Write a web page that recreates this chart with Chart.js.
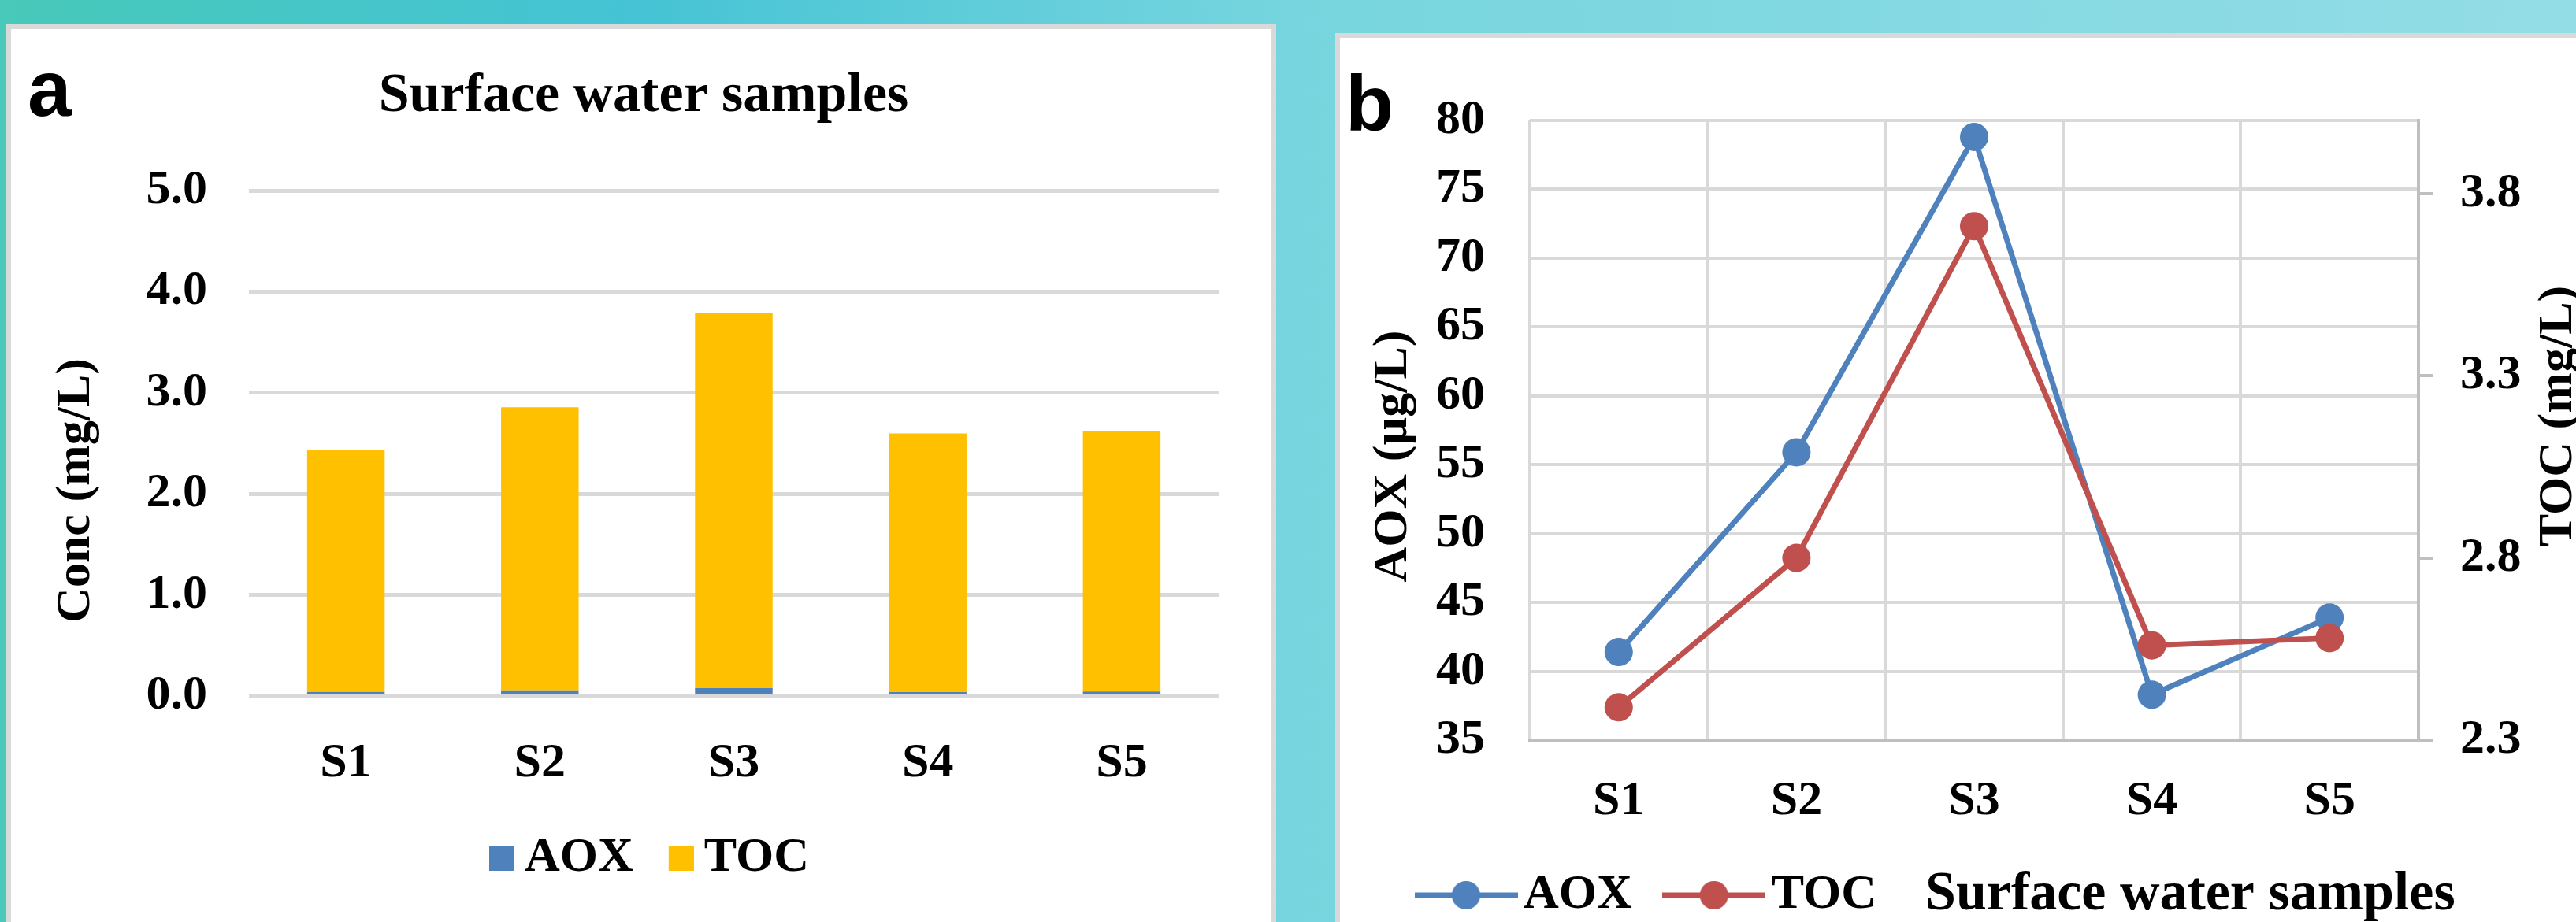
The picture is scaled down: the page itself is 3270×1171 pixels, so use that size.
<!DOCTYPE html>
<html>
<head>
<meta charset="utf-8">
<script src="https://cdn.jsdelivr.net/npm/chart.js@4.4.1/dist/chart.umd.min.js"></script>
<style>
  html, body { margin: 0; padding: 0; }
  body {
    width: 3270px; height: 1171px; overflow: hidden; position: relative;
    background: linear-gradient(to right, #48c9b9 0%, #44c3d4 24%, #76d5de 50%, #93dde6 100%);
  }
  .panel { position: absolute; background: #fff; border: 6px solid #d9d9d9; }
  #panelA { left: 8px; top: 31px; width: 1600px; height: 1200px; }
  #panelB { left: 1695px; top: 42px; width: 1700px; height: 1200px; }
  .tag { position: absolute; font: bold 100px "Liberation Sans", Arial, sans-serif; line-height: 100px; color: #000; }
  canvas { position: absolute; }
</style>
</head>
<body>
<div class="panel" id="panelA"></div>
<div class="panel" id="panelB"></div>
<canvas id="chartA" width="1600" height="1134" style="left:14px; top:37px;"></canvas>
<canvas id="chartB" width="1600" height="1140" style="left:1702px; top:48px;"></canvas>
<div class="tag" style="left:35px; top:62px;">a</div>
<div class="tag" style="left:1708px; top:81px;">b</div>

<script>
const samples = ['S1', 'S2', 'S3', 'S4', 'S5'];
const aoxUg = [41.4, 55.9, 78.8, 38.3, 43.9];   // AOX, µg/L
const tocMg = [2.39, 2.80, 3.71, 2.56, 2.58];   // TOC, mg/L
const aoxMg = aoxUg.map(v => v / 1000);         // AOX in mg/L for the stacked bars

const concMin = 0, concMax = 5, concStep = 1;
const aoxMin = 35, aoxMax = 80, aoxStep = 5;
const tocMin = 2.3, tocMax = 4.0;
const tocTicks = [2.3, 2.8, 3.3, 3.8];

const chartTitle = 'Surface water samples';
const concTitle = 'Conc (mg/L)';
const aoxTitle = 'AOX (µg/L)';
const tocTitle = 'TOC (mg/L)';

const blue = '#4f81bd';
const red = '#c0504d';
const gold = '#ffc000';

Chart.defaults.font.family = '"Liberation Serif", "Times New Roman", serif';
Chart.defaults.font.weight = 'bold';
Chart.defaults.color = '#000';

// legend swatch: square sits right of the box centre so text starts closer
function swatch(color) {
  const c = document.createElement('canvas');
  c.width = 64; c.height = 32;
  const g = c.getContext('2d');
  g.fillStyle = color;
  g.fillRect(32, 0, 32, 32);
  return c;
}

// legend marker: line with a dot
function lineMarker(color) {
  const c = document.createElement('canvas');
  c.width = 131; c.height = 40;
  const g = c.getContext('2d');
  g.strokeStyle = color;
  g.lineWidth = 7;
  g.beginPath(); g.moveTo(0, 20); g.lineTo(131, 20); g.stroke();
  g.fillStyle = color;
  g.beginPath(); g.arc(65.5, 20, 18, 0, Math.PI * 2); g.fill();
  return c;
}

// vertical axis titles, read bottom-up, placed beside the plot area
function axisTitles(items) {
  return {
    id: 'axisTitles',
    afterDraw(chart) {
      const ctx = chart.ctx;
      const area = chart.chartArea;
      const mid = (area.top + area.bottom) / 2;
      ctx.save();
      ctx.fillStyle = '#000';
      ctx.font = 'bold 62px "Liberation Serif"';
      ctx.textAlign = 'center';
      ctx.textBaseline = 'middle';
      items.forEach(t => {
        const x = t.side === 'left' ? area.left - t.gap : area.right + t.gap;
        ctx.save();
        ctx.translate(x, mid + t.shift);
        ctx.rotate(-Math.PI / 2);
        ctx.fillText(t.text, 0, 0);
        ctx.restore();
      });
      ctx.restore();
    }
  };
}

new Chart(document.getElementById('chartA'), {
  type: 'bar',
  data: {
    labels: samples,
    datasets: [
      { label: 'AOX', data: aoxMg, backgroundColor: blue },
      { label: 'TOC', data: tocMg, backgroundColor: gold }
    ]
  },
  options: {
    responsive: false,
    animation: false,
    devicePixelRatio: 1,
    layout: { padding: { left: 73, right: 67, top: 0, bottom: 40 } },
    datasets: { bar: { barPercentage: 0.4, categoryPercentage: 1 } },
    plugins: {
      title: {
        display: true, text: chartTitle, color: '#000',
        font: { size: 70 }, padding: { top: 44, bottom: 77 }
      },
      legend: {
        position: 'bottom',
        labels: {
          usePointStyle: true, pointStyleWidth: 28, padding: 31,
          font: { size: 62 }, color: '#000',
          generateLabels: chart => chart.data.datasets.map((ds, i) => ({
            text: ds.label, pointStyle: swatch(ds.backgroundColor),
            fillStyle: ds.backgroundColor, strokeStyle: ds.backgroundColor,
            lineWidth: 0, hidden: false, datasetIndex: i, fontColor: '#000'
          }))
        }
      },
      tooltip: { enabled: false }
    },
    scales: {
      x: {
        stacked: true,
        grid: { display: false },
        border: { display: false },
        ticks: { font: { size: 62 }, padding: 41 },
        afterFit: s => { s.height = 144; }
      },
      y: {
        stacked: true, min: concMin, max: concMax,
        ticks: { stepSize: concStep, font: { size: 62 }, padding: 53, callback: v => v.toFixed(1) },
        grid: { color: '#d9d9d9', lineWidth: 5, drawTicks: false },
        border: { display: false },
        afterFit: s => { s.width = 229; }
      }
    }
  },
  plugins: [axisTitles([{ text: concTitle, side: 'left', gap: 219, shift: 60 }])]
});

// chart title sits on the legend row, right after the last entry
const titleInLegend = {
  id: 'titleInLegend',
  afterDraw(chart) {
    const ctx = chart.ctx;
    const hb = chart.legend.legendHitBoxes[chart.legend.legendHitBoxes.length - 1];
    ctx.save();
    ctx.fillStyle = '#000';
    ctx.textBaseline = 'middle';
    ctx.textAlign = 'left';
    ctx.font = 'bold 70px "Liberation Serif"';
    ctx.fillText(chartTitle, hb.left + hb.width + 62, hb.top + hb.height / 2);
    ctx.restore();
  }
};

new Chart(document.getElementById('chartB'), {
  type: 'line',
  data: {
    labels: samples,
    datasets: [
      { label: 'AOX', data: aoxUg, yAxisID: 'y', borderColor: blue, backgroundColor: blue, order: 1 },
      { label: 'TOC', data: tocMg, yAxisID: 'y1', borderColor: red, backgroundColor: red, order: 0 }
    ]
  },
  options: {
    responsive: false,
    animation: false,
    devicePixelRatio: 1,
    layout: { padding: { left: 55, right: 0, top: 105, bottom: 10 } },
    elements: {
      line: { borderWidth: 7, tension: 0 },
      point: { radius: 18, hoverRadius: 18, borderWidth: 0 }
    },
    plugins: {
      legend: {
        position: 'bottom', align: 'start',
        labels: {
          usePointStyle: true, pointStyleWidth: 84, padding: 62,
          font: { size: 62 }, color: '#000',
          generateLabels: chart => chart.data.datasets.map((ds, i) => ({
            text: ds.label, pointStyle: lineMarker(ds.borderColor),
            fillStyle: ds.borderColor, strokeStyle: ds.borderColor,
            lineWidth: 0, hidden: false, datasetIndex: i, fontColor: '#000'
          }))
        }
      },
      tooltip: { enabled: false }
    },
    scales: {
      x: {
        offset: true,
        grid: { offset: true, color: '#d9d9d9', lineWidth: 4, drawTicks: false },
        border: { display: true, color: '#bfbfbf', width: 4 },
        ticks: { font: { size: 62 }, padding: 41 },
        afterFit: s => { s.height = 104; }
      },
      y: {
        position: 'left', min: aoxMin, max: aoxMax,
        ticks: { stepSize: aoxStep, font: { size: 62 }, padding: 57 },
        grid: { color: '#d9d9d9', lineWidth: 4, drawTicks: false },
        border: { display: false },
        afterFit: s => { s.width = 185; }
      },
      y1: {
        position: 'right', min: tocMin, max: tocMax,
        afterBuildTicks: s => { s.ticks = tocTicks.map(v => ({ value: v })); },
        ticks: { font: { size: 62 }, padding: 35, callback: v => v.toFixed(1) },
        grid: { drawOnChartArea: false, drawTicks: true, tickLength: 18, color: '#bfbfbf', lineWidth: 4 },
        border: { display: true, color: '#bfbfbf', width: 4 },
        afterFit: s => { s.width = 232; }
      }
    }
  },
  plugins: [
    titleInLegend,
    axisTitles([
      { text: aoxTitle, side: 'left', gap: 173, shift: 33 },
      { text: tocTitle, side: 'right', gap: 178, shift: -18 }
    ])
  ]
});
</script>
</body>
</html>
